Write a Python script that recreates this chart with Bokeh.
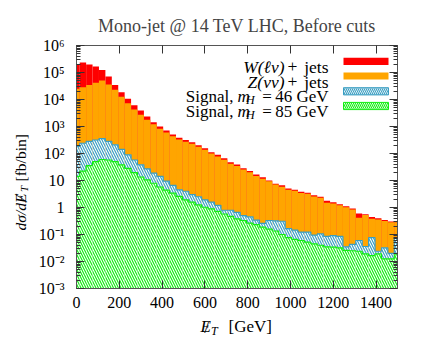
import math
from bokeh.plotting import figure
from bokeh.models import (FixedTicker, LinearAxis, LogAxis, Label, BoxAnnotation,
                          ColumnDataSource, Range1d, CustomJSTickFormatter)
from bokeh.embed import file_html
from bokeh.resources import INLINE

# ---------------- data ----------------
bin_width = 30
met_centers = list(range(0, 1501, 30))          # bin centres, GeV (51 bins)

w_jets = [174000, 206000, 165000, 124000, 73000, 34500, 11800, 6000, 3470, 1900,
          1140, 566, 243, 168, 105, 64, 49, 41, 34, 22,
          20, 12, 11.5, 7.2, 6.2, 4.2, 2.5, 2.4, 1.8, 1.5,
          0.67, 0.51, 0.72, 0.44, 0.40, 0.33, 0.31, 0.25, 0.22, 0.27,
          0.17, 0.12, 0.10, 0.061, 0.186, 0.037, 0.067, 0.035, 0.031, 0.020,
          0.020]
z_jets = [25100, 28200, 34700, 41700, 50100, 36300, 22900, 12600, 7240, 4270,
          2750, 1780, 1200, 832, 603, 437, 331, 275, 229, 178,
          138, 100, 77.6, 58.9, 41.7, 34.7, 25.7, 20.0, 14.8, 11.7,
          9.33, 7.08, 5.89, 4.57, 4.17, 3.47, 3.24, 2.57, 2.29, 1.51,
          1.41, 1.20, 1.02, 0.851, 0.417, 0.525, 0.380, 0.363, 0.316, 0.282,
          0.282]
sig_46 = [182, 240, 282, 316, 355, 282, 209, 141, 89, 57.5,
          38, 26.9, 18.6, 14.1, 9.5, 6.6, 4.5, 4.0, 3.0, 2.5,
          1.9, 1.58, 1.2, 0.79, 0.79, 0.66, 0.50, 0.45, 0.34, 0.26,
          0.33, 0.32, 0.31, 0.166, 0.145, 0.123, 0.123, 0.095, 0.105, 0.085,
          0.091, 0.085, 0.035, 0.043, 0.060, 0.036, 0.076, 0.024, 0.032, 0.020,
          0.076]
sig_85 = [14.1, 22.4, 35.5, 50, 60, 57.5, 50, 38, 28.2, 19.5,
          13.5, 10.5, 7.9, 5.75, 4.4, 3.4, 2.6, 1.9, 1.58, 1.26,
          1.02, 0.89, 0.72, 0.575, 0.468, 0.38, 0.33, 0.263, 0.234, 0.186,
          0.158, 0.135, 0.10, 0.076, 0.066, 0.060, 0.052, 0.045, 0.040, 0.035,
          0.034, 0.032, 0.026, 0.025, 0.024, 0.019, 0.0166, 0.019, 0.0126, 0.0126,
          0.0178]

x_ticks = [0, 200, 400, 600, 800, 1000, 1200, 1400]
y_ticks = [0.001, 0.01, 0.1, 1, 10, 100, 1000, 10000, 100000, 1000000]
y_tick_labels = ["10⁻³", "10⁻²", "10⁻¹", "1", "10", "10²", "10³", "10⁴", "10⁵", "10⁶"]

legend_labels = [("W(ℓν)", "+", "jets"), ("Z(νν)", "+", "jets")]
signal_masses = ["46", "85"]

# ---------------- styling ----------------
RED, ORANGE, BLUE, GREEN = "#ff0000", "#ffa500", "#3a9ec2", "#11ee11"
FONT = "Liberation Serif"
AX = "#555555"

# frame position on the page
FL, FR, FT, FB = 76, 397, 45, 288
W, H = 424, 341
X0, X1, Y0, Y1 = 0, 1500, 1e-3, 1e6

p = figure(width=W, height=H, x_range=Range1d(X0, X1), y_range=Range1d(Y0, Y1),
           y_axis_type="log", output_backend="svg", toolbar_location=None,
           min_border_left=FL, min_border_right=W - FR, min_border_top=FT,
           min_border_bottom=H - FB)
p.title.text = "Mono-jet @ 14 TeV LHC, Before cuts"
p.title.align = "center"
p.title.text_font = FONT
p.title.text_font_size = "18px"
p.title.text_font_style = "normal"
p.title.standoff = 19
p.grid.visible = False
p.outline_line_color = AX
p.background_fill_color = "white"
p.border_fill_color = "white"

n = len(met_centers)
src = ColumnDataSource(dict(
    left=[c - bin_width / 2 for c in met_centers],
    right=[c + bin_width / 2 for c in met_centers],
    total=[w + z for w, z in zip(w_jets, z_jets)],
    z=z_jets, s46=sig_46, s85=sig_85, floor=[1e-6] * n))

HATCH = dict(hatch_pattern="left_diagonal_line", hatch_scale=5, hatch_weight=1.2)

p.quad(left="left", right="right", bottom="floor", top="total", source=src,
       fill_color=RED, line_color=None)
p.quad(left="left", right="right", bottom="floor", top="z", source=src,
       fill_color=ORANGE, line_color=None)
p.quad(left="left", right="right", bottom="floor", top="s46", source=src,
       fill_color="white", line_color=None, hatch_color=BLUE, **HATCH)
p.step(x=met_centers, y=sig_46, mode="center", line_color=BLUE, line_width=1.2)
p.quad(left="left", right="right", bottom="floor", top="s85", source=src,
       fill_color="white", line_color=None, hatch_color=GREEN, **HATCH)
p.step(x=met_centers, y=sig_85, mode="center", line_color=GREEN, line_width=1.2)

# ---------------- axes ----------------
y_minor = [m * 10.0 ** e for e in range(-3, 6) for m in range(2, 10)]
yt = FixedTicker(ticks=y_ticks, minor_ticks=y_minor)
xt = FixedTicker(ticks=x_ticks, minor_ticks=[])
blank = CustomJSTickFormatter(code="return ''")


def style_axis(ax, labels=True):
    ax.axis_line_color = AX
    ax.major_tick_line_color = "#333333"
    ax.minor_tick_line_color = "#333333"
    ax.major_tick_in = 8
    ax.major_tick_out = 0
    ax.minor_tick_in = 4
    ax.minor_tick_out = 0
    ax.major_label_text_font = FONT
    ax.major_label_text_font_size = "16px"
    ax.major_label_text_color = "black"
    if not labels:
        ax.formatter = blank
        ax.major_label_standoff = 0


ly = p.yaxis[0]
ly.ticker = yt
style_axis(ly)
ly.major_label_overrides = {t: s for t, s in zip(y_ticks, y_tick_labels)}
ly.major_label_standoff = 12

bx = p.xaxis[0]
bx.ticker = xt
style_axis(bx)
bx.major_label_standoff = 8

ry = LogAxis(ticker=yt)
style_axis(ry, labels=False)
p.add_layout(ry, "right")
tx = LinearAxis(ticker=xt)
style_axis(tx, labels=False)
p.add_layout(tx, "above")


# ---------------- texts ----------------
def gx(px):   # page x -> data x
    return X0 + (px - FL) * (X1 - X0) / (FR - FL)


def gy(py):   # page y -> data y (log axis)
    l0, l1 = math.log10(Y0), math.log10(Y1)
    return 10 ** (l1 - (py - FT) * (l1 - l0) / (FB - FT))


def txt(s, px, py, size="17px", style="normal", align="left", angle=0.0, place="center"):
    p.add_layout(Label(x=gx(px), y=gy(py), text=s, text_font=FONT, text_font_size=size,
                       text_font_style=style, text_align=align,
                       text_baseline="alphabetic", angle=angle, text_color="black"),
                 place)


# x label: E-slash_T [GeV]  (pieces live in spare side-panel room, drawn at page positions)
txt("E", 200, 326, style="italic", place="right")
txt("/", 206, 327, align="center", place="right")
txt("T", 210.5, 330, size="12px", style="italic", place="right")
txt("[GeV]", 228, 326, place="below")

# y label: d sigma / d E-slash_T [fb/bin]
R = math.pi / 2
txt("dσ/dɆ", 20, 230, size="15.5px", style="italic", angle=R, place="left")
txt("T", 23, 191.5, size="11px", style="italic", angle=R, place="below")
txt("[fb/bin]", 20, 181, size="15.5px", angle=R, place="left")

# legend (inside frame)
row_c = [60.8, 75.5, 90.8, 105.5]
for i, (a, b, c) in enumerate(legend_labels):
    base = row_c[i] + 5.5
    txt(a, 284, base, size="17.5px", style="italic", align="right")
    txt(b, 292, base, size="17.5px", align="center")
    txt(c, 328, base, size="17.5px", align="right")
for j, m in enumerate(signal_masses):
    base = row_c[2 + j] + 5.5
    txt("Signal,", 233, base, align="right")
    txt("m", 237, base, style="italic")
    txt("H", 245.5, base + 3.5, size="12px", style="italic")
    txt("=", 266.5, base, align="center")
    txt(m + " GeV", 328, base, align="right")

sw = [dict(fill_color=RED, line_color=None),
      dict(fill_color=ORANGE, line_color=None),
      dict(fill_color="white", line_color=BLUE, hatch_pattern="left_diagonal_line",
           hatch_color=BLUE, hatch_scale=4, hatch_weight=1.1),
      dict(fill_color="white", line_color=GREEN, hatch_pattern="left_diagonal_line",
           hatch_color=GREEN, hatch_scale=4, hatch_weight=1.1)]
for c, kw in zip(row_c, sw):
    p.add_layout(BoxAnnotation(left=gx(343), right=gx(388), top=gy(c - 3.6),
                               bottom=gy(c + 3.6), fill_alpha=1, line_alpha=1,
                               line_width=1, **kw))

open("out.html", "w").write(file_html(p, INLINE))
